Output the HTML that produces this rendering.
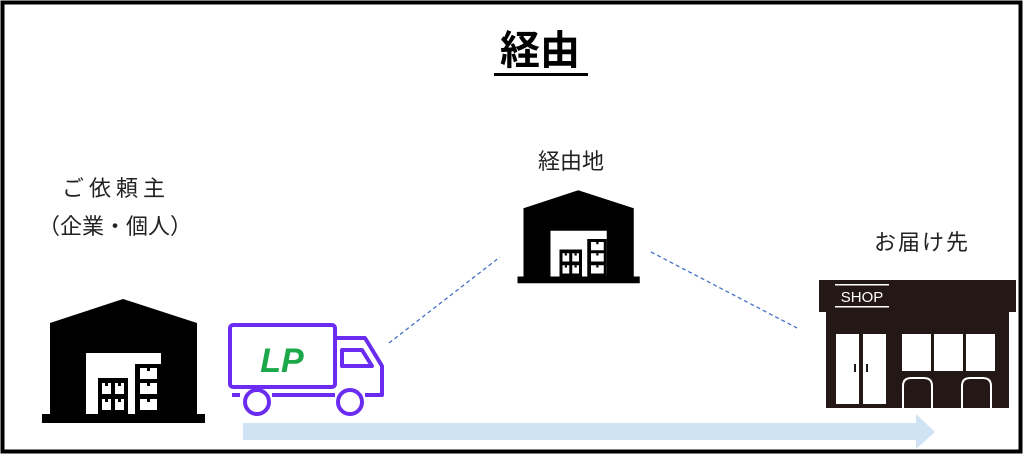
<!DOCTYPE html>
<html><head><meta charset="utf-8"><style>
body{margin:0;width:1024px;height:457px;background:#fff;overflow:hidden}
svg{display:block}
text{font-family:"Liberation Sans","Noto Sans CJK JP",sans-serif}
</style></head><body>
<svg width="1024" height="457" viewBox="0 0 1024 457">
<defs>
<g id="wh">
<polygon points="50,323 123,299 197,323 197,414 50,414" fill="#000"/>
<rect x="42" y="414" width="163" height="9" fill="#000"/>
<rect x="86" y="353" width="75" height="61" fill="#fff"/>
<rect x="98" y="378" width="30" height="36" fill="#000"/>
<rect x="135" y="364" width="26" height="50" fill="#000"/>
<g fill="#fff">
<rect x="102" y="383" width="9" height="11"/><rect x="115" y="383" width="9" height="11"/>
<rect x="102" y="399" width="9" height="11"/><rect x="115" y="399" width="9" height="11"/>
<rect x="140" y="368" width="17" height="11"/><rect x="140" y="383" width="17" height="11"/><rect x="140" y="399" width="17" height="11"/>
</g>
<g fill="#000">
<rect x="105" y="383" width="3" height="3"/><rect x="118" y="383" width="3" height="3"/>
<rect x="105" y="399" width="3" height="3"/><rect x="118" y="399" width="3" height="3"/>
<rect x="147" y="368" width="3" height="3"/><rect x="147" y="383" width="3" height="3"/><rect x="147" y="399" width="3" height="3"/>
</g>
</g>
</defs>
<rect x="2.5" y="2.5" width="1018" height="449" fill="#fff" stroke="#000" stroke-width="4"/>
<text x="540" y="64" font-size="40" font-weight="bold" text-anchor="middle">経由</text>
<rect x="494" y="73" width="94" height="3" fill="#000"/>
<text x="571" y="169" font-size="22" text-anchor="middle" fill="#222">経由地</text>
<text x="116" y="196" font-size="22" letter-spacing="5" text-anchor="middle" fill="#222">ご依頼主</text>
<text x="115" y="234" font-size="22" text-anchor="middle" fill="#222">（企業・個人）</text>
<text x="922" y="250" font-size="22" letter-spacing="2" text-anchor="middle" fill="#222">お届け先</text>
<use href="#wh"/>
<use href="#wh" transform="translate(486,-34) scale(0.75)"/>
<line x1="389" y1="343" x2="500" y2="257" stroke="#4472c4" stroke-width="1.3" stroke-dasharray="4,3"/>
<line x1="651" y1="252" x2="797" y2="328" stroke="#4472c4" stroke-width="1.3" stroke-dasharray="4,3"/>
<polygon points="243,423 916,423 916,414 935,432 916,449 916,440 243,440" fill="#cfe3f5"/>
<g fill="none" stroke="#6a2cf0" stroke-width="4" stroke-linejoin="round">
<rect x="230" y="325" width="105" height="62" rx="3"/>
<path d="M336,338 L365,338 L382,366 L382,395 L365,395"/>
<path d="M342,350 L362,350 L372,366 L342,366 Z"/>
<path d="M232,395 L240,395 M272,395 L335,395"/>
<circle cx="257" cy="402" r="12"/><circle cx="350" cy="402" r="12"/>
</g>
<text x="282" y="372" font-size="34" font-weight="bold" font-style="italic" fill="#1aa84a" text-anchor="middle">LP</text>
<g>
<rect x="819" y="280" width="197" height="32" fill="#231815"/>
<rect x="826" y="312" width="183" height="96" fill="#231815"/>
<text x="862" y="302" font-size="15" fill="#fff" text-anchor="middle">SHOP</text>
<rect x="835" y="284" width="54" height="1.5" fill="#fff"/><rect x="835" y="306" width="54" height="1.5" fill="#fff"/>
<rect x="836" y="334" width="23" height="70" fill="#fff"/><rect x="863" y="334" width="23" height="70" fill="#fff"/>
<rect x="854" y="364" width="2" height="8" fill="#231815"/><rect x="866" y="364" width="2" height="8" fill="#231815"/>
<rect x="902" y="334" width="29" height="37" fill="#fff"/><rect x="934" y="334" width="29" height="37" fill="#fff"/><rect x="966" y="334" width="29" height="37" fill="#fff"/>
<path d="M903,408 L903,386 Q903,378 911,378 L924,378 Q932,378 932,386 L932,408" fill="none" stroke="#fff" stroke-width="2"/>
<path d="M962,408 L962,386 Q962,378 970,378 L983,378 Q991,378 991,386 L991,408" fill="none" stroke="#fff" stroke-width="2"/>
</g>
</svg>
</body></html>
